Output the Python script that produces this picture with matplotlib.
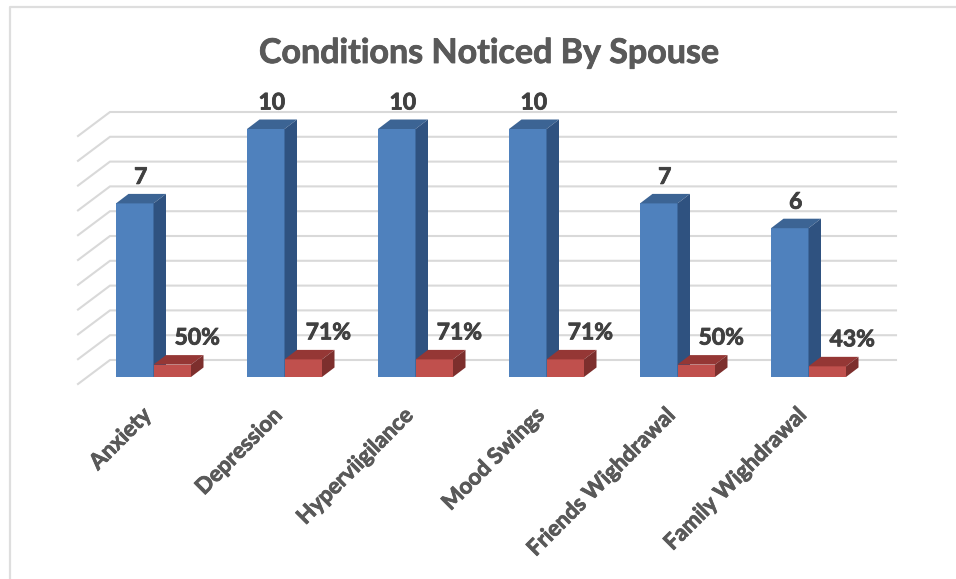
import numpy as np
import matplotlib.pyplot as plt
from matplotlib.patches import Polygon
import matplotlib.patheffects as pe

categories = ["Anxiety", "Depression", "Hyperviigilance", "Mood Swings", "Friends Wighdrawal", "Family Wighdrawal"]
counts = [7, 10, 10, 10, 7, 6]
percents = [0.50, 0.71, 0.71, 0.71, 0.50, 0.43]
grid_values = [0, 1, 2, 3, 4, 5, 6, 7, 8, 9, 10]

W, H = 956, 579
px_x = 131.0    # pixels per category
px_y = 24.8     # pixels per unit
x0, y0 = 116.0, 377.0

plt.rcParams['font.family'] = ['Lato', 'DejaVu Sans']

fig = plt.figure(figsize=(W / 100, H / 100), dpi=100)
ax = fig.add_axes([0, 0, 1, 1])
ax.set_xlim(-x0 / px_x, (W - x0) / px_x)
ax.set_ylim(-(H - y0) / px_y, y0 / px_y)
ax.axis("off")


def X(p):
    return (p - x0) / px_x


def Y(p):
    return (y0 - p) / px_y


# chart frame
ax.plot([X(10), X(10), X(W)], [Y(H), Y(7), Y(7)], color="#dedede", lw=1.6, zorder=1)

# floor + wall gridlines
for v in grid_values:
    yb = Y(360) + v
    yf = Y(384) + v
    ax.plot([X(78), X(110), X(896)], [yf, yb, yb], color="#d9d9d9", lw=1.5, zorder=2,
            solid_joinstyle="miter")

bw = 37.5 / px_x
dx = 12.5 / px_x
dy = 9.5 / px_y

# thickens the Lato bold a bit, closer to the heavier look of the original
heavy = [pe.withStroke(linewidth=0.6, foreground="#404040")]
heavy2 = [pe.withStroke(linewidth=0.6, foreground="#595959")]


def box(x, h, front, top, side, z):
    ax.bar(x, h, width=bw, align="edge", color=front, zorder=z)
    ax.add_patch(Polygon([(x, h), (x + bw, h), (x + bw + dx, h + dy), (x + dx, h + dy)],
                         closed=True, color=top, lw=0, zorder=z))
    ax.add_patch(Polygon([(x + bw, 0), (x + bw + dx, dy), (x + bw + dx, h + dy), (x + bw, h)],
                         closed=True, color=side, lw=0, zorder=z))


for i, (c, p) in enumerate(zip(counts, percents)):
    box(i, c, "#4f81bd", "#3c6494", "#2f5280", 3)
    box(i + bw, p, "#c0504d", "#953735", "#7d2f2d", 4)
    ax.text(i + bw / 2 + 6 / px_x, c + 26 / px_y, str(c), ha="center", va="center",
            fontsize=16.5, fontweight="bold", color="#404040", zorder=5, path_effects=heavy)
    ax.text(i + bw * 1.5 + 25 / px_x, p + 26.5 / px_y, f"{p:.0%}", ha="center", va="center",
            fontsize=16.5, fontweight="bold", color="#404040", zorder=5, path_effects=heavy)
    ax.text(i + bw / 2 + 6 / px_x, Y(404), categories[i], rotation=45, rotation_mode="anchor",
            ha="right", va="top", fontsize=16, fontweight="bold", color="#595959", zorder=5,
            path_effects=heavy2)

ax.text(X(489), Y(53), "Conditions Noticed By Spouse", ha="center", va="center",
        fontsize=24.5, fontweight="bold", color="#595959", path_effects=heavy2)

plt.savefig("out.png", dpi=100)
